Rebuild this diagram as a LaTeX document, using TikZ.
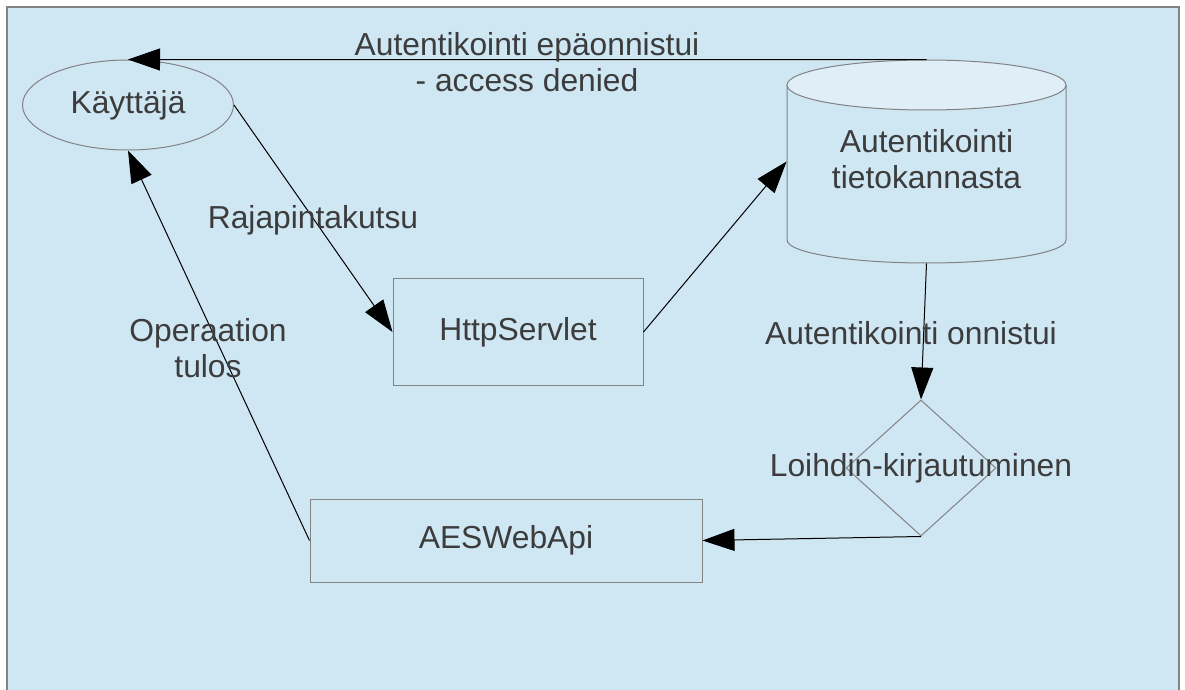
\documentclass[tikz,border=0pt]{standalone}
\usepackage{fontspec}
\setmainfont{Liberation Sans}
\usetikzlibrary{shapes.geometric,arrows.meta}
\definecolor{bg}{RGB}{207,230,243}
\definecolor{capc}{RGB}{224,238,248}
\definecolor{bordc}{RGB}{130,130,130}
\definecolor{txtc}{RGB}{60,60,60}
\begin{document}
\begin{tikzpicture}[x=0.5pt,y=-0.5pt,
  every node/.style={font=\fontsize{15.9pt}{18pt}\selectfont, text=txtc},
  box/.style={draw=bordc, line width=0.5pt, rectangle, inner sep=0pt},
  lbl/.style={align=center, inner sep=0pt},
  conn/.style={draw=black, line width=0.5pt, -{Triangle[length=16pt,width=11pt]}}]
\useasboundingbox (0,0) rectangle (1185,690);
\fill[white] (0,0) rectangle (1185,690);
\draw[fill=bg, draw=bordc, line width=0.8pt] (7,7) rectangle (1179,700);

% nodes
\node[ellipse, draw=bordc, line width=0.5pt, inner sep=0pt, minimum width=105.5pt, minimum height=45pt] (user) at (128,105) {Käyttäjä};
\node[box, minimum width=125pt, minimum height=53pt] (http) at (518,332) {HttpServlet};
\node[box, minimum width=196pt, minimum height=41.5pt] (aes) at (506,540.5) {AESWebApi};
\node[diamond, draw=bordc, line width=0.5pt, inner sep=0pt, minimum width=75pt, minimum height=68pt] (dia) at (921,468) {};
\node[lbl] (diatext) at (921,468) {Loihdin-kirjautuminen};

% cylinder
\node[rectangle, inner sep=0pt, minimum width=139.5pt, minimum height=101.5pt] (db) at (926.5,161.5) {};
\draw[fill=bg, draw=bordc, line width=0.5pt] (787,85) -- (787,240) arc[start angle=180, end angle=0, x radius=139.5, y radius=23] -- (1066,85);
\draw[fill=capc, draw=bordc, line width=0.5pt] (926.5,85) ellipse[x radius=139.5, y radius=25];
\node[lbl] (dbtext) at (926.5,159) {Autentikointi\\tietokannasta};

% connectors
\draw[conn] (db.north) -- (user.north);
\draw[conn] (user.east) -- (http.west);
\draw[conn] (http.east) -- (db.west);
\draw[conn] (db.south) -- (dia.north);
\draw[conn] (dia.south) -- (aes.east);
\draw[conn] (aes.west) -- (user.south);

% labels
\node[lbl] (l1) at (527,62) {Autentikointi epäonnistui\\- access denied};
\node[lbl] (l2) at (313,220) {Rajapintakutsu};
\node[lbl] (l3) at (208,348) {Operaation\\tulos};
\node[lbl] (l4) at (911,333) {Autentikointi onnistui};
\end{tikzpicture}
\end{document}
